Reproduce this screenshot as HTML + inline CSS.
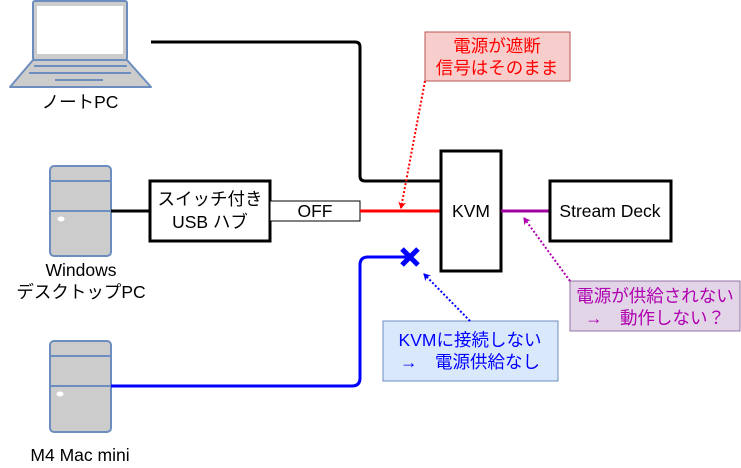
<!DOCTYPE html>
<html><head><meta charset="utf-8"><style>
html,body{margin:0;padding:0;background:#fff;width:741px;height:468px;overflow:hidden}
text{font-family:"Liberation Sans","Noto Sans CJK JP",sans-serif;font-size:17.5px}
</style></head><body>
<svg width="741" height="468" viewBox="0 0 741 468" xmlns="http://www.w3.org/2000/svg">
<defs>
<marker id="ar" markerWidth="8" markerHeight="8" refX="6" refY="4" orient="auto" markerUnits="userSpaceOnUse"><path d="M0,0 L7,4 L0,8 L2,4 Z" fill="red"/></marker>
<marker id="ap" markerWidth="8" markerHeight="8" refX="6" refY="4" orient="auto" markerUnits="userSpaceOnUse"><path d="M0,0 L7,4 L0,8 L2,4 Z" fill="#b000b0"/></marker>
<marker id="ab" markerWidth="8" markerHeight="8" refX="6" refY="4" orient="auto" markerUnits="userSpaceOnUse"><path d="M0,0 L7,4 L0,8 L2,4 Z" fill="blue"/></marker>
</defs>
<rect x="33" y="1" width="94" height="59" rx="2" fill="#ccc" stroke="#6c8ebf" stroke-width="2"/>
<rect x="37" y="6" width="86" height="48" fill="#fff"/>
<path d="M33,60 L127,60 L151,87 L10,87 Z" fill="#ccc" stroke="#6c8ebf" stroke-width="2" stroke-linejoin="round"/>
<line x1="34" y1="66" x2="127" y2="66" stroke="#6c8ebf" stroke-width="2"/>
<line x1="29" y1="73" x2="131" y2="73" stroke="#6c8ebf" stroke-width="2"/>
<line x1="55" y1="80" x2="103" y2="80" stroke="#6c8ebf" stroke-width="2"/>
<text x="80" y="108" text-anchor="middle">ノートPC</text>
<path d="M151,42 L355,42 Q360,42 360,47 L360,176 Q360,181 365,181 L441,181" fill="none" stroke="#000" stroke-width="3"/>
<rect x="50" y="166" width="61" height="90" rx="4" fill="#ccc" stroke="#6c8ebf" stroke-width="2"/>
<line x1="50" y1="181" x2="111" y2="181" stroke="#6c8ebf" stroke-width="2"/>
<line x1="50" y1="211" x2="111" y2="211" stroke="#6c8ebf" stroke-width="2"/>
<ellipse cx="61" cy="219" rx="3.5" ry="2.5" fill="#fff"/>
<text x="81" y="276" text-anchor="middle">Windows</text>
<text x="81" y="298" text-anchor="middle">デスクトップPC</text>
<line x1="111" y1="211" x2="150" y2="211" stroke="#000" stroke-width="3"/>
<rect x="150" y="181" width="120" height="60" fill="#fff" stroke="#000" stroke-width="3"/>
<text x="210" y="205" text-anchor="middle">スイッチ付き</text>
<text x="210" y="228" text-anchor="middle">USB ハブ</text>
<rect x="270" y="201" width="90" height="20" fill="#fff" stroke="#000" stroke-width="1"/>
<text x="315" y="217" text-anchor="middle">OFF</text>
<line x1="360" y1="211" x2="441" y2="211" stroke="red" stroke-width="3"/>
<rect x="441" y="151" width="60" height="120" fill="#fff" stroke="#000" stroke-width="3"/>
<text x="471" y="217" text-anchor="middle">KVM</text>
<line x1="501" y1="211" x2="550" y2="211" stroke="#a000a0" stroke-width="3"/>
<rect x="550" y="181" width="121" height="60" fill="#fff" stroke="#000" stroke-width="3"/>
<text x="610" y="217" text-anchor="middle">Stream Deck</text>
<rect x="425" y="32" width="145" height="49" fill="#f8cecc" stroke="#b85450"/>
<text x="497" y="52" text-anchor="middle" fill="red">電源が遮断</text>
<text x="497" y="74" text-anchor="middle" fill="red">信号はそのまま</text>
<line x1="425" y1="81" x2="401" y2="208" stroke="red" stroke-width="2" stroke-dasharray="2,2" marker-end="url(#ar)"/>
<rect x="570" y="281" width="170" height="50" fill="#e1d5e7" stroke="#9673a6"/>
<text x="655" y="302" text-anchor="middle" fill="#b000b0">電源が供給されない</text>
<text x="655" y="324" text-anchor="middle" fill="#b000b0">→　動作しない？</text>
<line x1="570" y1="281" x2="524" y2="218" stroke="#b000b0" stroke-width="2" stroke-dasharray="2,2" marker-end="url(#ap)"/>
<rect x="50" y="341" width="61" height="91" rx="4" fill="#ccc" stroke="#6c8ebf" stroke-width="2"/>
<line x1="50" y1="356" x2="111" y2="356" stroke="#6c8ebf" stroke-width="2"/>
<line x1="50" y1="386" x2="111" y2="386" stroke="#6c8ebf" stroke-width="2"/>
<ellipse cx="60" cy="394" rx="3.5" ry="2.5" fill="#fff"/>
<text x="80" y="461" text-anchor="middle">M4 Mac mini</text>
<path d="M111,386 L352,386 Q360,386 360,378 L360,265 Q360,257 368,257 L406,257" fill="none" stroke="blue" stroke-width="3"/>
<path d="M402,249 L418,265 M418,249 L402,265" stroke="blue" stroke-width="5"/>
<rect x="383" y="321" width="175" height="60" fill="#dae8fc" stroke="#6c8ebf"/>
<text x="470" y="346" text-anchor="middle" fill="blue">KVMに接続しない</text>
<text x="470" y="368" text-anchor="middle" fill="blue">→　電源供給なし</text>
<line x1="470" y1="321" x2="424" y2="274" stroke="blue" stroke-width="2" stroke-dasharray="2,2" marker-end="url(#ab)"/>
</svg>
</body></html>
